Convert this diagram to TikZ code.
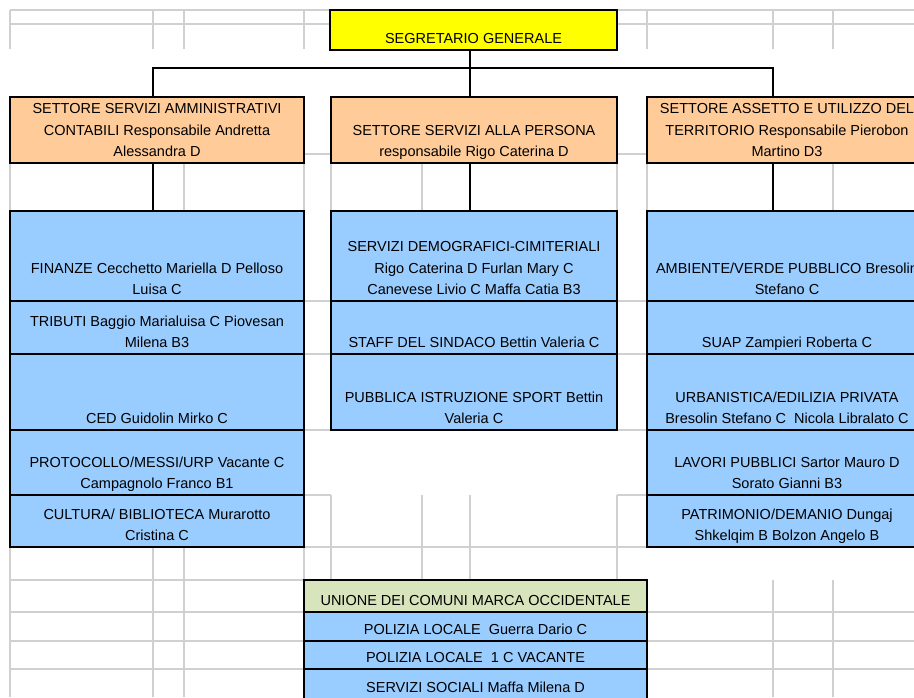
\documentclass[tikz,border=0pt]{standalone}
\usepackage{fontspec}
\setmainfont{Liberation Sans}
\usetikzlibrary{positioning}

\definecolor{giallo}{HTML}{FFFF00}
\definecolor{settore}{HTML}{FFCC99}
\definecolor{ufficio}{HTML}{99CCFF}
\definecolor{unione}{HTML}{D8E4BC}
\definecolor{griglia}{HTML}{D0D0D0}

\newcommand{\cella}[3]{\parbox[t][#2][b]{#1}{\centering #3\strut\par\kern0pt}}

\begin{document}
\begin{tikzpicture}
        [x = 1pt, y = -1pt,
            node distance = 0pt,
            line width = 1.5pt,
            font = \fontsize{14.5}{21.5}\selectfont,
            cell/.style = {draw, inner sep=0pt, outer sep=0pt, anchor=north west},
            grid line/.style = {draw=griglia, line width=1.2pt}]

        \path[use as bounding box, clip] (0,0) rectangle (914,697);

        \foreach \y in {10,24} {
            \draw[grid line] (10,\y) -- (330,\y);
            \draw[grid line] (617,\y) -- (914,\y);
        }
        \foreach \x in {10,153,184,304,647,773,833}
            \draw[grid line] (\x,10) -- (\x,49);
        \foreach \x in {10,184,304,331,422,617,647,833}
            \draw[grid line] (\x,154) -- (\x,211);
        \foreach \y in {154,301,354,430,495} {
            \draw[grid line] (304,\y) -- (331,\y);
            \draw[grid line] (617,\y) -- (647,\y);
        }
        \draw[grid line] (304,547) -- (647,547);
        \draw[grid line] (304,547) -- (304,580);
        \foreach \x in {331,422,470,617}
            \draw[grid line] (\x,495) -- (\x,580);
        \foreach \x in {10,153,184}
            \draw[grid line] (\x,547) -- (\x,697);
        \foreach \x in {773,833}
            \draw[grid line] (\x,580) -- (\x,697);
        \draw[grid line] (10,580) -- (304,580);
        \foreach \y in {612,641,669} {
            \draw[grid line] (10,\y) -- (304,\y);
            \draw[grid line] (647,\y) -- (914,\y);
        }

        \node[cell, fill=giallo] (sg) at (330,10) {\cella{287pt}{40pt}{SEGRETARIO GENERALE}};

        \node[cell, fill=settore] (amm) at (10,97) {\cella{294pt}{66pt}{SETTORE SERVIZI AMMINISTRATIVI\\ CONTABILI Responsabile Andretta\\ Alessandra D}};
        \node[cell, fill=settore] (pers) at (331,97) {\cella{286pt}{66pt}{SETTORE SERVIZI ALLA PERSONA\\ responsabile Rigo Caterina D}};
        \node[cell, fill=settore] (terr) at (647,97) {\cella{280pt}{66pt}{SETTORE ASSETTO E UTILIZZO DEL\\ TERRITORIO Responsabile Pierobon\\ Martino D3}};

        \coordinate (jl) at (153,68);
        \coordinate (jc) at (470,68);
        \coordinate (jr) at (773,68);

        \draw (sg.south -| jc) -- (jc);
        \draw (jl |- amm.north) -- (jl) -- (jr) -- (jr |- terr.north);
        \draw (jc) -- (jc |- pers.north);

        \node[cell, fill=ufficio] (fin) at (10,211) {\cella{294pt}{90pt}{FINANZE Cecchetto Mariella D Pelloso\\ Luisa C}};
        \node[cell, fill=ufficio, below=of fin] (trib) {\cella{294pt}{53pt}{TRIBUTI Baggio Marialuisa C Piovesan\\ Milena B3}};
        \node[cell, fill=ufficio, below=of trib] (ced) {\cella{294pt}{76pt}{CED Guidolin Mirko C}};
        \node[cell, fill=ufficio, below=of ced] (prot) {\cella{294pt}{65pt}{PROTOCOLLO/MESSI/URP Vacante C\\ Campagnolo Franco B1}};
        \node[cell, fill=ufficio, below=of prot] (cult) {\cella{294pt}{52pt}{CULTURA/ BIBLIOTECA Murarotto\\ Cristina C}};

        \node[cell, fill=ufficio] (dem) at (331,211) {\cella{286pt}{90pt}{SERVIZI DEMOGRAFICI-CIMITERIALI\\ Rigo Caterina D Furlan Mary C\\ Canevese Livio C Maffa Catia B3}};
        \node[cell, fill=ufficio, below=of dem] (staff) {\cella{286pt}{53pt}{STAFF DEL SINDACO Bettin Valeria C}};
        \node[cell, fill=ufficio, below=of staff] (pub) {\cella{286pt}{76pt}{PUBBLICA ISTRUZIONE SPORT Bettin\\ Valeria C}};

        \node[cell, fill=ufficio] (amb) at (647,211) {\cella{280pt}{90pt}{AMBIENTE/VERDE PUBBLICO Bresolin\\ Stefano C}};
        \node[cell, fill=ufficio, below=of amb] (suap) {\cella{280pt}{53pt}{SUAP Zampieri Roberta C}};
        \node[cell, fill=ufficio, below=of suap] (urb) {\cella{280pt}{76pt}{URBANISTICA/EDILIZIA PRIVATA\\ Bresolin Stefano C\ \ Nicola Libralato C}};
        \node[cell, fill=ufficio, below=of urb] (lav) {\cella{280pt}{65pt}{LAVORI PUBBLICI Sartor Mauro D\\ Sorato Gianni B3}};
        \node[cell, fill=ufficio, below=of lav] (pat) {\cella{280pt}{52pt}{PATRIMONIO/DEMANIO Dungaj\\ Shkelqim B Bolzon Angelo B}};

        \draw (amm.south -| jl) -- (fin.north -| jl);
        \draw (pers.south -| jc) -- (dem.north -| jc);
        \draw (terr.south -| jr) -- (amb.north -| jr);

        \node[cell, fill=unione] (uco) at (304,580) {\cella{343pt}{32pt}{UNIONE DEI COMUNI MARCA OCCIDENTALE}};
        \node[cell, fill=ufficio, below=of uco] (pol) {\cella{343pt}{29pt}{POLIZIA LOCALE\ \ Guerra Dario C}};
        \node[cell, fill=ufficio, below=of pol] (polv) {\cella{343pt}{28pt}{POLIZIA LOCALE\ \ 1 C VACANTE}};
        \node[cell, fill=ufficio, below=of polv] (soc) {\cella{343pt}{30pt}{SERVIZI SOCIALI Maffa Milena D}};
\end{tikzpicture}
\end{document}
